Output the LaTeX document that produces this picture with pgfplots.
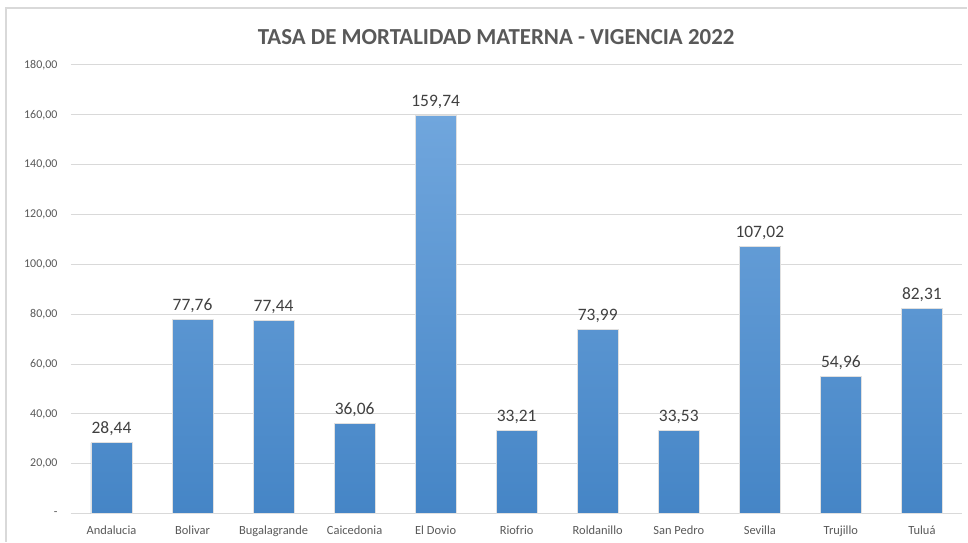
\documentclass[border=0pt]{standalone}
\usepackage{pgfplots}
\pgfplotsset{compat=1.18}
\usepackage{fontspec}
\setmainfont{Carlito}
\definecolor{bartop}{HTML}{70A6DD}
\definecolor{barmid}{HTML}{559ADE}
\definecolor{barbot}{HTML}{4585C6}
\definecolor{gridc}{HTML}{D9D9D9}
\definecolor{tickc}{HTML}{595959}
\definecolor{labc}{HTML}{404040}
\begin{document}
\begin{tikzpicture}[x=1bp,y=1bp]
\fill[white] (0,0) rectangle (968,542);
\draw[gridc,line width=1.2bp] (6,0) -- (6,534) -- (968,534);
\begin{axis}[
  at={(71bp,28bp)}, anchor=south west,
  scale only axis, width=892bp, height=449bp,
  xmin=-0.5, xmax=10.5, ymin=0, ymax=180,
  ytick={0,20,...,180},
  yticklabels={-,{20,00},{40,00},{60,00},{80,00},{100,00},{120,00},{140,00},{160,00},{180,00}},
  xtick=data,
  xticklabels={Andalucia,Bolivar,Bugalagrande,Caicedonia,El Dovio,Riofrio,Roldanillo,San Pedro,Sevilla,Trujillo,Tuluá},
  tick style={draw=none},
  ymajorgrids, grid style={gridc,line width=1bp},
  axis line style={draw=none},
  axis x line*=bottom,
  x axis line style={draw=gridc,line width=1bp},
  y axis line style={draw=none},
  yticklabel style={font=\fontsize{12}{14}\selectfont,text=tickc,xshift=-10bp},
  xticklabel style={font=\fontsize{12.5}{15}\selectfont,text=tickc,yshift=-4bp},
  title={\bfseries TASA DE MORTALIDAD MATERNA - VIGENCIA 2022},
  title style={font=\fontsize{23}{26}\selectfont,text=tickc,at={(0.477,1)},yshift=11bp},
  ybar, bar width=41bp,
  nodes near coords={\pgfmathprintnumber[fixed,fixed zerofill,precision=2,use comma]{\pgfplotspointmeta}},
  nodes near coords style={font=\fontsize{17.5}{20}\selectfont,text=labc,yshift=3bp},
  /pgf/number format/assume math mode=true,
]
\addplot[draw=black!12, line width=0.8bp, top color=bartop, middle color=barmid, bottom color=barbot] coordinates {
(0,28.44) (1,77.76) (2,77.44) (3,36.06) (4,159.74) (5,33.21) (6,73.99) (7,33.53) (8,107.02) (9,54.96) (10,82.31)};
\end{axis}
\end{tikzpicture}
\end{document}
